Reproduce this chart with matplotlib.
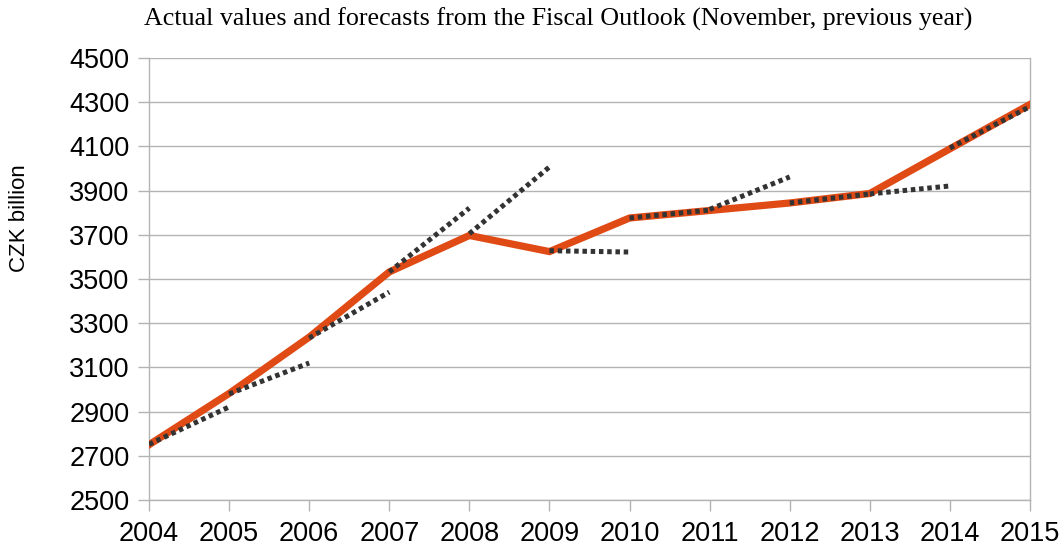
import matplotlib
matplotlib.use("Agg")
import matplotlib.pyplot as plt

years = [2004, 2005, 2006, 2007, 2008, 2009, 2010, 2011, 2012, 2013, 2014, 2015]
actual = [2750, 2982, 3237, 3532, 3697, 3624, 3776, 3810, 3844, 3887, 4089, 4290]

# forecasts from the Fiscal Outlook: (start year, value in start year, value in next year)
fc_start = [2004, 2005, 2006, 2007, 2008, 2009, 2010, 2011, 2012, 2013, 2014]
fc_first = [2752, 2980, 3233, 3532, 3705, 3628, 3776, 3815, 3844, 3885, 4093]
fc_second = [2921, 3120, 3441, 3821, 4007, 3622, 3812, 3962, 3885, 3921, 4280]

orange = '#e04a15'
grey = '#b3b3b3'

fig = plt.figure(figsize=(10.64, 5.5), dpi=100)
ax = fig.add_axes([149 / 1064, 50 / 550, 881 / 1064, 442 / 550])

ax.plot(years, actual, color=orange, linewidth=5.2, solid_joinstyle='miter', zorder=3)
for s, a, b in zip(fc_start, fc_first, fc_second):
    ax.plot([s, s + 1], [a, b], color='#333333', linewidth=3.6,
            linestyle=(0, (0.9, 0.75)), zorder=4)

ax.set_xlim(2004, 2015)
ax.set_ylim(2500, 4500)
ax.set_xticks(years)
ax.set_yticks(range(2500, 4501, 200))
ax.yaxis.grid(True, color=grey, linewidth=1)
ax.set_axisbelow(True)
for sp in ax.spines.values():
    sp.set_color(grey)
    sp.set_linewidth(1)
ax.spines['top'].set_visible(False)
ax.tick_params(axis='both', colors=grey, length=8, width=1, labelcolor='black',
               labelsize=19.5)
ax.tick_params(axis='y', pad=6)
ax.tick_params(axis='x', pad=7)
for lab in ax.get_xticklabels() + ax.get_yticklabels():
    lab.set_family('Liberation Sans')

fig.text(20 / 1064, 1 - 218 / 550, 'CZK billion', rotation=90, ha='center', va='center',
         fontsize=16, family='Liberation Sans')

fig.text(558 / 1064, 1 - 19 / 550,
         'Actual values and forecasts from the Fiscal Outlook (November, previous year)',
         ha='center', va='center', fontsize=18.7, family='Liberation Serif')

fig.savefig('out.png', dpi=100)
